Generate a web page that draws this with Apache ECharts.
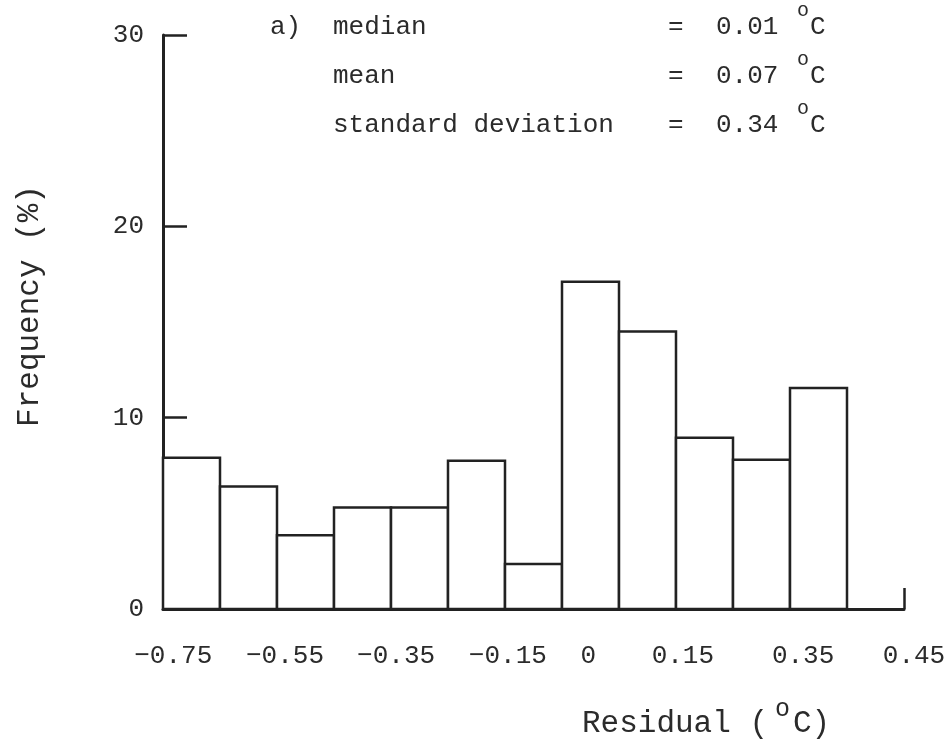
<!DOCTYPE html>
<html><head><meta charset="utf-8">
<script src="https://cdn.jsdelivr.net/npm/echarts@6/dist/echarts.min.js"></script>
<style>html,body{margin:0;padding:0;background:#fff}#c{width:952px;height:752px}</style>
</head><body><div id="c"></div>
<script>
// Histogram bins (bin index units along the drawn axis) and frequency (%)
const binStart = [0, 1, 2, 3, 4, 5, 6, 7, 8, 9, 10, 11];
const binEnd   = [1, 2, 3, 4, 5, 6, 7, 8, 9, 10, 11, 12];
const frequency = [7.9, 6.4, 3.85, 5.3, 5.3, 7.75, 2.35, 17.1, 14.5, 8.95, 7.8, 11.55];

// x tick labels as printed on the original figure and where they sit (bin units)
const xTickLabels = ['\u22120.75', '\u22120.55', '\u22120.35', '\u22120.15', '0', '0.15', '0.35', '0.45'];
const xTickLabelAt = [0.18, 2.14, 4.09, 6.05, 7.46, 9.12, 11.23, 13];
const xTickMarkAt = [7.48, 13];
const yTickValues = [0, 10, 20, 30];

// Annotation
const panelTag = 'a)';
const statNames = ['median', 'mean', 'standard deviation'];
const statValues = ['0.01', '0.07', '0.34'];
const statUnit = ['o', 'C'];
const xTitle = ['Residual (', 'o', 'C)'];
const yTitle = 'Frequency (%)';

const FONT = '"Liberation Mono", "DejaVu Sans Mono", monospace';
const INK = '#222';
const TXT = '#2b2b2b';

const chart = echarts.init(document.getElementById('c'), null, {renderer: 'canvas'});

const rowsY = [30, 79, 128];
const graphic = [];
graphic.push({type: 'text', left: 270, top: rowsY[0] - 16, style: {text: panelTag, font: '26px ' + FONT, fill: TXT}});
statNames.forEach((n, i) => {
  const y = rowsY[i] - 16;
  graphic.push({type: 'text', left: 333, top: y, style: {text: n, font: '26px ' + FONT, fill: TXT}});
  graphic.push({type: 'text', left: 668, top: y, style: {text: '=', font: '26px ' + FONT, fill: TXT}});
  graphic.push({type: 'text', left: 716, top: y, style: {text: statValues[i], font: '26px ' + FONT, fill: TXT}});
  graphic.push({type: 'text', left: 797, top: y - 13, style: {text: statUnit[0], font: '20px ' + FONT, fill: TXT}});
  graphic.push({type: 'text', left: 810, top: y, style: {text: statUnit[1], font: '26px ' + FONT, fill: TXT}});
});
// axis titles
graphic.push({type: 'text', left: 582, top: 708, style: {text: xTitle[0], font: '31px ' + FONT, fill: TXT}});
graphic.push({type: 'text', left: 775, top: 697, style: {text: xTitle[1], font: '25px ' + FONT, fill: TXT}});
graphic.push({type: 'text', left: 793, top: 708, style: {text: xTitle[2], font: '31px ' + FONT, fill: TXT}});
graphic.push({type: 'text', x: 30, y: 306, rotation: Math.PI / 2,
  style: {text: yTitle, font: '31px ' + FONT, fill: TXT, align: 'center', verticalAlign: 'middle'}});

const option = {
  backgroundColor: '#fff',
  animation: false,
  grid: {left: 163, right: 48, top: 35, bottom: 143, containLabel: false},
  xAxis: {
    type: 'value', min: 0, max: 13,
    axisLine: {show: true, lineStyle: {color: INK, width: 3}},
    splitLine: {show: false},
    axisTick: {show: true, inside: true, length: 21, customValues: xTickMarkAt, lineStyle: {color: INK, width: 2.5}},
    axisLabel: {
      show: true, customValues: xTickLabelAt, margin: 34,
      fontFamily: FONT, fontSize: 26, color: TXT,
      formatter: function (v) {
        let idx = -1;
        xTickLabelAt.forEach((p, i) => { if (Math.abs(p - v) < 1e-6) idx = i; });
        if (idx < 0) return '';
        if (idx === xTickLabels.length - 1) return '{r|' + xTickLabels[idx] + '}';
        return xTickLabels[idx];
      },
      rich: {r: {fontFamily: FONT, fontSize: 26, color: TXT, padding: [0, 0, 0, 20]}}
    }
  },
  yAxis: {
    type: 'value', min: 0, max: 30, interval: 10,
    axisLine: {show: true, lineStyle: {color: INK, width: 3}},
    splitLine: {show: false},
    axisTick: {show: true, inside: true, length: 24, customValues: yTickValues, lineStyle: {color: INK, width: 2.5}},
    axisLabel: {show: true, margin: 19, fontFamily: FONT, fontSize: 26, color: TXT, customValues: yTickValues}
  },
  graphic: graphic,
  series: [{
    type: 'custom',
    encode: {x: [0, 1], y: 2},
    data: frequency.map((f, i) => [binStart[i], binEnd[i], f]),
    renderItem: function (params, api) {
      const p0 = api.coord([api.value(0), 0]);
      const p1 = api.coord([api.value(1), api.value(2)]);
      return {
        type: 'rect',
        shape: {x: p0[0], y: p1[1], width: p1[0] - p0[0], height: p0[1] - p1[1]},
        style: {fill: '#fff', stroke: INK, lineWidth: 2.5}
      };
    },
    z: 1
  }]
};
chart.setOption(option);
</script>
</body></html>
